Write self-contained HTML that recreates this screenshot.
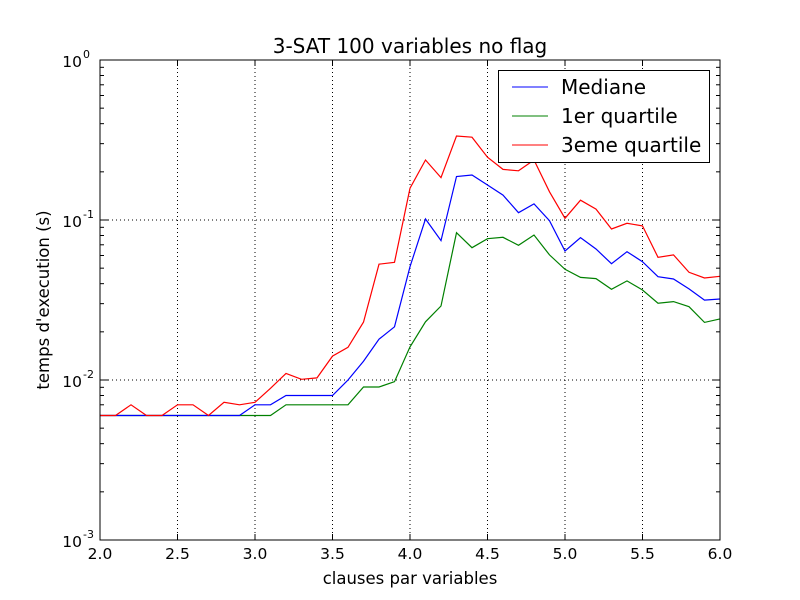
<!DOCTYPE html>
<html><head><meta charset="utf-8"><style>
body{margin:0;background:#fff}
svg{display:block;font-family:"DejaVu Sans","Liberation Sans",sans-serif}
</style></head><body>
<svg id="chart" width="800" height="600" viewBox="0 0 800 600">
<rect width="800" height="600" fill="#fff"/>
<g id="grid"></g><g id="ticks"></g><g id="series"></g>
<rect x="100" y="60" width="620" height="480" fill="none" stroke="#000" stroke-width="1"/>
<text x="410" y="53" text-anchor="middle" font-size="20">3-SAT 100 variables no flag</text>
<text x="410" y="584" text-anchor="middle" font-size="16.5">clauses par variables</text>
<text transform="translate(49,300) rotate(-90)" text-anchor="middle" font-size="16.5">temps d'execution (s)</text>
<g>
<rect x="498.5" y="70.5" width="211" height="92" fill="#fff" stroke="#000"/>
<g><line x1="512" y1="87" x2="548" y2="87" stroke="#0000ff"/><text x="561" y="94" font-size="20">Mediane</text></g>
<g><line x1="512" y1="116" x2="548" y2="116" stroke="#008000"/><text x="561" y="123" font-size="20">1er quartile</text></g>
<g><line x1="512" y1="145" x2="548" y2="145" stroke="#ff0000"/><text x="561" y="152" font-size="20">3eme quartile</text></g>
</g>
</svg>
<script>
const xs=[2.0,2.1,2.2,2.3,2.4,2.5,2.6,2.7,2.8,2.9,3.0,3.1,3.2,3.3,3.4,3.5,3.6,3.7,3.8,3.9,4.0,4.1,4.2,4.3,4.4,4.5,4.6,4.7,4.8,4.9,5.0,5.1,5.2,5.3,5.4,5.5,5.6,5.7,5.8,5.9,6.0];
const mediane=[0.006,0.006,0.006,0.006,0.006,0.006,0.006,0.006,0.006,0.006,0.007,0.007,0.008,0.008,0.008,0.008,0.01,0.0131,0.018,0.0215,0.0511,0.1015,0.0743,0.187,0.191,0.1655,0.143,0.111,0.126,0.099,0.064,0.0775,0.0659,0.0533,0.0634,0.0549,0.0442,0.0428,0.0371,0.0316,0.0321];
const q1=[0.006,0.006,0.006,0.006,0.006,0.006,0.006,0.006,0.006,0.006,0.006,0.006,0.007,0.007,0.007,0.007,0.007,0.00904,0.00904,0.00976,0.0161,0.0231,0.029,0.0833,0.0671,0.0764,0.078,0.0695,0.0806,0.0605,0.0492,0.0438,0.043,0.0369,0.0416,0.0365,0.0302,0.0309,0.0287,0.0229,0.0241];
const q3=[0.006,0.006,0.007,0.006,0.006,0.007,0.007,0.006,0.00726,0.007,0.00726,0.00887,0.011,0.0101,0.0103,0.0141,0.016,0.023,0.0529,0.0544,0.158,0.237,0.184,0.335,0.329,0.247,0.207,0.203,0.237,0.15,0.1025,0.133,0.117,0.0879,0.0954,0.0918,0.0585,0.0605,0.0471,0.0434,0.0445];
const xTicks=[2.0,2.5,3.0,3.5,4.0,4.5,5.0,5.5,6.0];
const yTicks=[-3,-2,-1,0];
const NS="http://www.w3.org/2000/svg";
const X=v=>100+(v-2)/4*620;
const Y=v=>60+(-Math.log10(v))*160;
function mk(t,a,p){const e=document.createElementNS(NS,t);for(const k in a)e.setAttribute(k,a[k]);p.appendChild(e);return e;}
const grid=document.getElementById('grid'),ticks=document.getElementById('ticks'),ser=document.getElementById('series');
xTicks.forEach(v=>{const x=X(v);
 const g=mk('line',{x1:x,y1:60,x2:x,y2:540,stroke:'#000','stroke-dasharray':'1,3','stroke-width':1},grid);
 
 
 mk('line',{x1:x,y1:540,x2:x,y2:534,stroke:'#000'},ticks);
 mk('line',{x1:x,y1:60,x2:x,y2:66,stroke:'#000'},ticks);
 const t=mk('text',{x:x,y:559,'text-anchor':'middle','font-size':15.5},ticks);t.textContent=v.toFixed(1);
 
 
});
yTicks.forEach(e=>{const y=Y(Math.pow(10,e));
 if(e>-3&&e<0){const g=mk('line',{x1:100,y1:y,x2:720,y2:y,stroke:'#000','stroke-dasharray':'1,3'},grid);
 
 }
 mk('line',{x1:100,y1:y,x2:108,y2:y,stroke:'#000'},ticks);
 mk('line',{x1:720,y1:y,x2:712,y2:y,stroke:'#000'},ticks);
 const t=mk('text',{x:82,y:y+7,'text-anchor':'end','font-size':15.5},ticks);t.textContent='10';
 
 
 const s=mk('text',{x:83,y:y-2,'font-size':11},ticks);s.textContent=String(e);
 if(e<0)for(let m=2;m<10;m++){const yy=Y(m*Math.pow(10,e));
  mk('line',{x1:100,y1:yy,x2:104,y2:yy,stroke:'#000'},ticks);
  mk('line',{x1:720,y1:yy,x2:716,y2:yy,stroke:'#000'},ticks);}
});
[[q1,'#008000','series-1er-quartile'],[mediane,'#0000ff','series-mediane'],[q3,'#ff0000','series-3eme-quartile']].forEach(([d,c,n])=>{
 const p=mk('polyline',{points:d.map((v,i)=>X(xs[i]).toFixed(1)+','+Y(v).toFixed(1)).join(' '),fill:'none',stroke:c,'stroke-width':1.2},ser);
 
 
});
</script>
</body></html>
